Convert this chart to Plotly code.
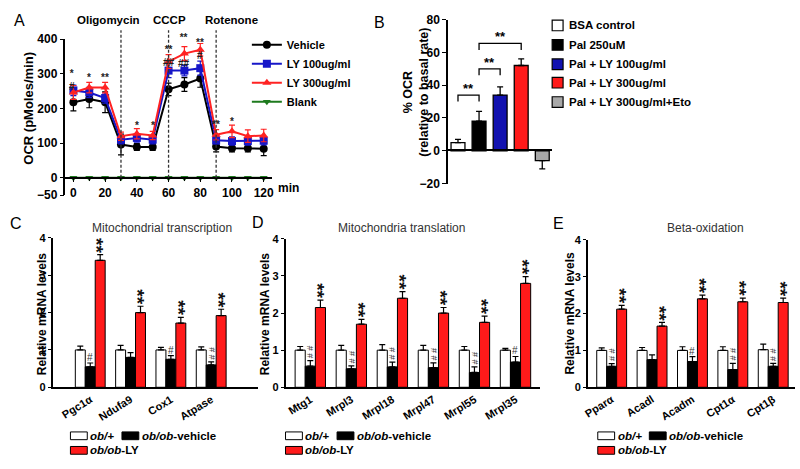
import plotly.graph_objects as go

W, H = 800, 469


def px(x):
    return x / W


def py(y):
    return 1 - y / H


FONT = "Liberation Sans, Arial, Helvetica, sans-serif"

# ---------------- Panel A data ----------------
time_min = [0, 10, 20, 30, 40, 50, 60, 70, 80, 90, 100, 110, 120]
vehicle = [218, 227, 218, 96, 89, 89, 255, 269, 286, 90, 85, 85, 84]
vehicle_err = [25, 25, 30, 30, 10, 10, 18, 20, 25, 15, 10, 10, 20]
ly100 = [252, 246, 230, 110, 115, 110, 309, 309, 316, 108, 106, 106, 107]
ly100_err = [15, 15, 15, 12, 12, 12, 20, 15, 20, 10, 12, 12, 12]
ly300 = [246, 260, 260, 120, 127, 122, 335, 358, 369, 124, 134, 120, 122]
ly300_err = [20, 15, 15, 12, 15, 12, 20, 20, 18, 15, 18, 18, 18]
blank = [0, 0, 0, 0, 0, 0, 0, 0, 0, 0, 0, 0, 0]
a_names = ["Vehicle", "LY 100ug/ml", "LY 300ug/ml", "Blank"]
injections = [30, 60, 90]
injection_names = ["Oligomycin", "CCCP", "Rotenone"]
a_sig_x = [-1, 10, 20, 40, 50, 60, 70, 80, 90, 100]
a_sig_y = [282, 288, 288, 152, 152, 350, 366, 372, 154, 162]
a_sig_text = ["*<br>#", "*", "**", "*", "*", "**<br>##", "**<br><br>##", "**<br>#", "**", "*"]

# ---------------- Panel B data ----------------
b_groups = ["BSA control", "Pal 250uM", "Pal + LY 100ug/ml", "Pal + LY 300ug/ml",
            "Pal + LY 300ug/ml+Eto"]
b_vals = [5, 18, 34, 52, -6]
b_err = [2, 6, 5, 4, 5]
b_br_left = [0, 1, 1]
b_br_right = [1, 2, 3]
b_br_top = [34, 50, 65.5]
b_br_text = ["**", "**", "**"]

# ---------------- Panels C / D / E data ----------------
grp_names = ["<i>ob/+</i>", "<i>ob/ob</i>-vehicle", "<i>ob/ob</i>-LY"]

c_genes = ["Pgc1α", "Ndufa9", "Cox1", "Atpase"]
c_obp = [1.0, 1.0, 1.0, 1.0]
c_obp_err = [0.1, 0.12, 0.07, 0.08]
c_veh = [0.55, 0.8, 0.75, 0.6]
c_veh_err = [0.1, 0.13, 0.1, 0.08]
c_ly = [3.4, 2.0, 1.72, 1.92]
c_ly_err = [0.15, 0.17, 0.15, 0.17]
c_hash = [1, 0, 1, 2]

d_genes = ["Mtg1", "Mrpl3", "Mrpl18", "Mrpl47", "Mrpl55", "Mrpl35"]
d_obp = [1.0, 1.0, 1.0, 1.0, 1.0, 1.0]
d_obp_err = [0.1, 0.13, 0.15, 0.13, 0.1, 0.05]
d_veh = [0.57, 0.5, 0.55, 0.53, 0.4, 0.68]
d_veh_err = [0.15, 0.08, 0.13, 0.13, 0.15, 0.15]
d_ly = [2.15, 1.7, 2.4, 2.0, 1.75, 2.8]
d_ly_err = [0.2, 0.13, 0.18, 0.15, 0.17, 0.18]
d_hash = [2, 2, 2, 2, 2, 1]

e_genes = ["Pparα", "Acadl", "Acadm", "Cpt1α", "Cpt1β"]
e_obp = [1.0, 1.0, 1.0, 1.0, 1.02]
e_obp_err = [0.07, 0.08, 0.1, 0.1, 0.15]
e_veh = [0.57, 0.75, 0.7, 0.48, 0.57]
e_veh_err = [0.07, 0.13, 0.13, 0.17, 0.08]
e_ly = [2.12, 1.66, 2.4, 2.32, 2.3]
e_ly_err = [0.1, 0.1, 0.1, 0.1, 0.12]
e_hash = [2, 0, 1, 2, 2]

# ---------------- styles ----------------
a_colors = ["black", "#1616c8", "#ff2222", "#1e7a1e"]
a_symbols = ["circle", "square", "triangle-up", "triangle-down"]
b_colors = ["white", "black", "#1212b0", "#ff1a1a", "#a8a8a8"]
grp_colors = ["white", "black", "#ff1a1a"]

fig = go.Figure()
annotations = []
shapes = []


def text_ann(x, y, text, size=12, weight="bold", xref="paper", yref="paper",
             xanchor="center", yanchor="middle", angle=0, color="black", yshift=0, xshift=0):
    annotations.append(dict(
        x=x, y=y, xref=xref, yref=yref, text=text, showarrow=False,
        xanchor=xanchor, yanchor=yanchor, textangle=angle, yshift=yshift, xshift=xshift,
        borderpad=0,
        font=dict(family=FONT, size=size, color=color, weight=weight)))


# ---------------- Panel A ----------------
a_vals = [vehicle, ly100, ly300, blank]
a_errs = [vehicle_err, ly100_err, ly300_err, None]
for name, vals, err, col, sym in zip(a_names, a_vals, a_errs, a_colors, a_symbols):
    fig.add_trace(go.Scatter(
        x=time_min, y=vals, name=name, mode="lines+markers",
        line=dict(color=col, width=2),
        marker=dict(color=col, symbol=sym, size=8 if sym != "triangle-down" else 7),
        error_y=(dict(type="data", array=err, color=col, thickness=1.2, width=3)
                 if err is not None else None),
        xaxis="x", yaxis="y", showlegend=True, legend="legend", cliponaxis=False))

for t in injections:
    shapes.append(dict(type="line", xref="x", yref="paper", x0=t, x1=t,
                       y0=py(176), y1=py(24),
                       line=dict(color="#333333", width=1.3, dash="3px,2px")))
inj_px = [104, 166, 229]
for name, xp in zip(injection_names, inj_px):
    text_ann(px(xp), py(13), name, size=11.5)

for x, y, t in zip(a_sig_x, a_sig_y, a_sig_text):
    text_ann(x, y, t, size=10, xref="x", yref="y", color="#222222")

text_ann(px(286), py(187), "min", size=12)
text_ann(px(15), py(14), "A", size=16, weight="normal")
text_ann(px(24), py(104), "OCR (pMoles/min)", size=13, angle=-90)

# ---------------- Panel B ----------------
b_x = list(range(len(b_vals)))
fig.add_trace(go.Bar(
    x=b_x, y=b_vals, width=0.66,
    marker=dict(color=b_colors, line=dict(color="black", width=1.3)),
    error_y=dict(type="data", symmetric=False,
                 array=[e if v >= 0 else 0 for v, e in zip(b_vals, b_err)],
                 arrayminus=[e if v < 0 else 0 for v, e in zip(b_vals, b_err)],
                 color="black", thickness=1.3, width=3),
    xaxis="x2", yaxis="y2", showlegend=False))

for l, r, top, t in zip(b_br_left, b_br_right, b_br_top, b_br_text):
    shapes.append(dict(type="path", xref="x2", yref="y2",
                       path=f"M {l},{top - 4} L {l},{top} L {r},{top} L {r},{top - 4}",
                       line=dict(color="black", width=1.3)))
    text_ann((l + r) / 2, top, t, size=13, xref="x2", yref="y2", yanchor="bottom", yshift=-2)

b_leg_y = [19, 39, 59, 78, 98]
for name, col, yy in zip(b_groups, b_colors, b_leg_y):
    shapes.append(dict(type="rect", xref="paper", yref="paper",
                       x0=px(552), x1=px(563), y0=py(yy + 5.5), y1=py(yy - 5.5),
                       fillcolor=col, line=dict(color="black", width=1.2)))
    text_ann(px(568), py(yy), name, size=11.5, xanchor="left")

text_ann(px(378), py(16), "B", size=16, weight="normal")
text_ann(px(415), py(88), "% OCR<br>(relative to basal rate)", size=12.5, angle=-90)


# ---------------- Panels C / D / E ----------------
def gene_panel(xa, ya, genes, series, errs, hashes, title, title_px, letter, letter_px,
               ytitle_x, leg_x, leg_y):
    n = len(genes)
    xs = list(range(n))
    for name, vals, err, col in zip(grp_names, series, errs, grp_colors):
        fig.add_trace(go.Bar(
            x=xs, y=vals, name=name,
            marker=dict(color=col, line=dict(color="black", width=1)),
            error_y=dict(type="data", symmetric=False, array=err, arrayminus=[0] * n,
                         color="black", thickness=1.2, width=3),
            xaxis=xa, yaxis=ya, showlegend=False))
    bw = (1 - 0.26) / 3
    veh, veh_err = series[1], errs[1]
    ly, ly_err = series[2], errs[2]
    for i in range(n):
        top = veh[i] + veh_err[i]
        if hashes[i] == 1:
            text_ann(i, top, "#", size=10, weight="normal", xref=xa, yref=ya,
                     yanchor="bottom", yshift=-1, color="#333333")
        elif hashes[i] == 2:
            text_ann(i, top, "# #", size=9, weight="normal", xref=xa, yref=ya,
                     yanchor="bottom", angle=90, yshift=1, color="#333333")
        topr = ly[i] + ly_err[i]
        text_ann(i + bw, topr, "**", size=19, xref=xa, yref=ya, angle=90,
                 yanchor="bottom", xshift=-3, yshift=1, color="#111111")
    text_ann(px(title_px[0]), py(title_px[1]), title, size=12, weight="normal", color="#333333")
    text_ann(px(letter_px[0]), py(letter_px[1]), letter, size=16, weight="normal")
    text_ann(px(ytitle_x), py(316), "Relative mRNA levels", size=12, angle=-90)
    # legend
    rows = [(leg_x, leg_y, 0), (leg_x + 52, leg_y, 1), (leg_x, leg_y + 15, 2)]
    for (lx, ly_, gi) in rows:
        shapes.append(dict(type="rect", xref="paper", yref="paper",
                           x0=px(lx), x1=px(lx + 17), y0=py(ly_ + 4), y1=py(ly_ - 4),
                           fillcolor=grp_colors[gi], line=dict(color="black", width=1)))
        text_ann(px(lx + 19), py(ly_), grp_names[gi], size=11.5, xanchor="left")


gene_panel("x3", "y3", c_genes, [c_obp, c_veh, c_ly], [c_obp_err, c_veh_err, c_ly_err],
           c_hash, "Mitochondrial transcription", (158, 228), "C", (11, 223), 37, 66, 442)
gene_panel("x4", "y4", d_genes, [d_obp, d_veh, d_ly], [d_obp_err, d_veh_err, d_ly_err],
           d_hash, "Mitochondria translation", (400, 228), "D", (255, 222), 262, 283, 442)
gene_panel("x5", "y5", e_genes, [e_obp, e_veh, e_ly], [e_obp_err, e_veh_err, e_ly_err],
           e_hash, "Beta-oxidation", (707, 228), "E", (558, 223), 570, 598, 442)

# ---------------- axes ----------------
axis_common = dict(showline=True, linecolor="black", linewidth=1.5, showgrid=False,
                   zeroline=False, ticks="outside", tickcolor="black", ticklen=4,
                   tickwidth=1.3, tickfont=dict(family=FONT, size=12, color="black", weight="bold"))

gene_x = dict(axis_common, ticks="", tickangle=-32,
              tickfont=dict(family=FONT, size=11, color="black", weight="bold"))
gene_y = dict(axis_common, range=[0, 4], tickvals=[0, 1, 2, 3, 4], ticklen=3,
              tickfont=dict(family=FONT, size=11, color="black", weight="bold"))

fig.update_layout(
    width=W, height=H, margin=dict(l=0, r=0, t=0, b=0),
    paper_bgcolor="white", plot_bgcolor="white",
    barmode="group", bargap=0.26, bargroupgap=0,
    xaxis=dict(axis_common, domain=[px(61), px(269)], range=[-5, 125], anchor="free",
               position=py(176), tickvals=[0, 20, 40, 60, 80, 100, 120],
               minor=dict(tickvals=[10, 30, 50, 70, 90, 110], ticklen=3, tickcolor="black",
                          ticks="outside")),
    yaxis=dict(axis_common, domain=[py(194), py(33)], range=[-50, 400], anchor="x",
               tickvals=[-50, 0, 100, 200, 300, 400]),
    xaxis2=dict(axis_common, domain=[px(447), px(552)], range=[-0.47, 4.47], anchor="free",
                position=py(147), ticks="", showticklabels=False),
    yaxis2=dict(axis_common, domain=[py(182), py(13)], range=[-20, 80], anchor="x2",
                tickvals=[-20, 0, 20, 40, 60, 80]),
    xaxis3=dict(gene_x, domain=[px(48), px(255)], range=[-0.934, 4.155], anchor="y3",
                tickvals=list(range(len(c_genes))), ticktext=c_genes),
    yaxis3=dict(gene_y, domain=[py(392), py(238)], anchor="x3"),
    xaxis4=dict(gene_x, domain=[px(283), px(540)], range=[-0.604, 5.604], anchor="y4",
                tickvals=list(range(len(d_genes))), ticktext=d_genes),
    yaxis4=dict(gene_y, domain=[py(392), py(239)], anchor="x4"),
    xaxis5=dict(gene_x, domain=[px(588), px(797)], range=[-0.59, 4.54], anchor="y5",
                tickvals=list(range(len(e_genes))), ticktext=e_genes),
    yaxis5=dict(gene_y, domain=[py(392), py(240)], anchor="x5"),
    legend=dict(x=px(244), y=py(24), xanchor="left", yanchor="top",
                font=dict(family=FONT, size=11, color="black", weight="bold"),
                bgcolor="rgba(0,0,0,0)", itemwidth=30, tracegroupgap=0),
    annotations=annotations,
    shapes=shapes,
)

fig.write_html("out.html", post_script="document.body.style.margin='0px';",
               config={"displayModeBar": False})
